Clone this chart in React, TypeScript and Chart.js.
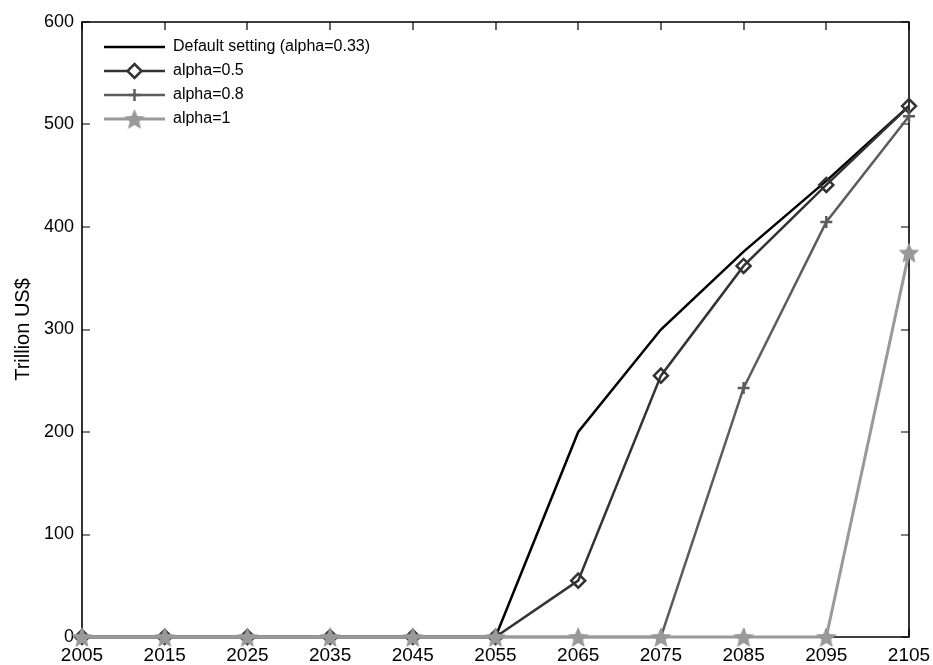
import React, { useEffect, useRef } from "react";
import { Chart, registerables } from "chart.js";

Chart.register(...registerables);

const years = [2005, 2015, 2025, 2035, 2045, 2055, 2065, 2075, 2085, 2095, 2105];
const defaultSetting = [0, 0, 0, 0, 0, 0, 200, 300, 376, 445, 518];
const alpha05 = [0, 0, 0, 0, 0, 0, 55, 255, 362, 441, 518];
const alpha08 = [0, 0, 0, 0, 0, 0, 0, 0, 243, 405, 508];
const alpha1 = [0, 0, 0, 0, 0, 0, 0, 0, 0, 0, 375];
const seriesLabels = ["Default setting (alpha=0.33)", "alpha=0.5", "alpha=0.8", "alpha=1"];
const yTicks = [0, 100, 200, 300, 400, 500, 600];
const yTitle = "Trillion US$";

const FONT = "'Liberation Sans', Arial, Helvetica, sans-serif";

function makeStar(color: string, size: number) {
  const c = document.createElement("canvas");
  c.width = size;
  c.height = size;
  const ctx = c.getContext("2d")!;
  const cx = size / 2, cy = size / 2 + 1, R = size / 2, r = R * 0.46;
  ctx.beginPath();
  for (let i = 0; i < 10; i++) {
    const ang = -Math.PI / 2 + (i * Math.PI) / 5;
    const rad = i % 2 === 0 ? R : r;
    ctx.lineTo(cx + rad * Math.cos(ang), cy + rad * Math.sin(ang));
  }
  ctx.closePath();
  ctx.fillStyle = color;
  ctx.fill();
  return c;
}

export default function App() {
  const ref = useRef<HTMLCanvasElement | null>(null);
  useEffect(() => {
    document.body.style.margin = "0";
    const star = makeStar("#999999", 22);
    const colors = ["#000000", "#333333", "#5c5c5c", "#999999"];
    const toXY = (vals: number[]) => years.map((x, i) => ({ x, y: vals[i] }));

    const boxPlugin = {
      id: "box",
      beforeDatasetsDraw(chart: any) {
        const { ctx, chartArea: a } = chart;
        const xs = chart.scales.x, ys = chart.scales.y;
        ctx.save();
        ctx.strokeStyle = "#000";
        ctx.lineWidth = 1.6;
        ctx.beginPath();
        ctx.rect(Math.round(a.left), Math.round(a.top), Math.round(a.right - a.left), Math.round(a.bottom - a.top));
        ctx.stroke();
        const tl = 8;
        ctx.lineWidth = 1.2;
        ctx.beginPath();
        years.forEach((v) => {
          const px = Math.round(xs.getPixelForValue(v));
          ctx.moveTo(px, a.bottom);
          ctx.lineTo(px, a.bottom - tl);
          ctx.moveTo(px, a.top);
          ctx.lineTo(px, a.top + tl);
        });
        yTicks.forEach((v) => {
          const py = Math.round(ys.getPixelForValue(v));
          ctx.moveTo(a.left, py);
          ctx.lineTo(a.left + tl, py);
          ctx.moveTo(a.right, py);
          ctx.lineTo(a.right - tl, py);
        });
        ctx.stroke();
        ctx.restore();
      },
      afterDraw(chart: any) {
        const { ctx, chartArea: a } = chart;
        ctx.save();
        const x0 = a.left + 22, x1 = a.left + 83, xm = (x0 + x1) / 2;
        chart.data.datasets.forEach((ds: any, i: number) => {
          const y = a.top + 25 + i * 24;
          ctx.strokeStyle = ds.borderColor;
          ctx.lineWidth = ds.borderWidth;
          ctx.beginPath();
          ctx.moveTo(x0, y);
          ctx.lineTo(x1, y);
          ctx.stroke();
          if (i === 1) {
            const r = 7;
            ctx.beginPath();
            ctx.moveTo(xm, y - r);
            ctx.lineTo(xm + r, y);
            ctx.lineTo(xm, y + r);
            ctx.lineTo(xm - r, y);
            ctx.closePath();
            ctx.fillStyle = "#fff";
            ctx.fill();
            ctx.lineWidth = 2.5;
            ctx.stroke();
          } else if (i === 2) {
            ctx.beginPath();
            ctx.moveTo(xm, y - 6);
            ctx.lineTo(xm, y + 6);
            ctx.moveTo(xm - 6, y);
            ctx.lineTo(xm + 6, y);
            ctx.stroke();
          } else if (i === 3) {
            ctx.drawImage(star, xm - star.width / 2, y - star.height / 2);
          }
          ctx.fillStyle = "#000";
          ctx.font = `16px ${FONT}`;
          ctx.textBaseline = "middle";
          ctx.textAlign = "left";
          ctx.fillText(ds.label, x1 + 8, y);
        });
        ctx.restore();
      },
    };

    const chart = new Chart(ref.current!, {
      type: "line",
      data: {
        datasets: [
          {
            label: seriesLabels[0],
            data: toXY(defaultSetting),
            borderColor: colors[0],
            backgroundColor: colors[0],
            borderWidth: 2.5,
            pointRadius: 0,
            order: 3,
            clip: false as any,
          },
          {
            label: seriesLabels[1],
            data: toXY(alpha05),
            borderColor: colors[1],
            backgroundColor: "rgba(255,255,255,0)",
            borderWidth: 2.5,
            pointStyle: "rectRot",
            pointRadius: 7,
            pointBorderWidth: 2.5,
            order: 2,
            clip: false as any,
          },
          {
            label: seriesLabels[2],
            data: toXY(alpha08),
            borderColor: colors[2],
            backgroundColor: colors[2],
            borderWidth: 2.5,
            pointStyle: "cross",
            pointRadius: 6,
            pointBorderWidth: 2.5,
            order: 1,
            clip: false as any,
          },
          {
            label: seriesLabels[3],
            data: toXY(alpha1),
            borderColor: colors[3],
            backgroundColor: colors[3],
            borderWidth: 3,
            pointStyle: star as any,
            pointRadius: 11,
            order: 0,
            clip: false as any,
          },
        ],
      },
      options: {
        animation: false,
        responsive: true,
        maintainAspectRatio: false,
        layout: { padding: { left: 0, top: 22, right: 24, bottom: 0 } },
        plugins: { legend: { display: false }, tooltip: { enabled: false } },
        scales: {
          x: {
            type: "linear",
            min: 2005,
            max: 2105,
            grid: { display: false, drawTicks: false },
            border: { display: false },
            ticks: {
              stepSize: 10,
              color: "#000",
              padding: 7,
              maxRotation: 0,
              autoSkip: false,
              font: { family: FONT, size: 19 },
              callback: (v: any) => String(v),
            },
            afterFit: (s: any) => {
              s.height = 28;
              s.paddingRight = 0;
              s.paddingLeft = 0;
            },
          },
          y: {
            min: 0,
            max: 600,
            grid: { display: false, drawTicks: false },
            border: { display: false },
            ticks: {
              stepSize: 100,
              color: "#000",
              padding: 8,
              font: { family: FONT, size: 18 },
            },
            title: {
              display: true,
              text: yTitle,
              color: "#000",
              font: { family: FONT, size: 20 },
              padding: { top: 11, bottom: 0 },
            },
            afterFit: (s: any) => {
              s.width = 82;
              s.paddingTop = 0;
              s.paddingBottom = 0;
            },
          },
        },
      },
      plugins: [boxPlugin],
    });
    return () => chart.destroy();
  }, []);
  return (
    <div style={{ position: "relative", width: 933, height: 665 }}>
      <canvas ref={ref} />
    </div>
  );
}
